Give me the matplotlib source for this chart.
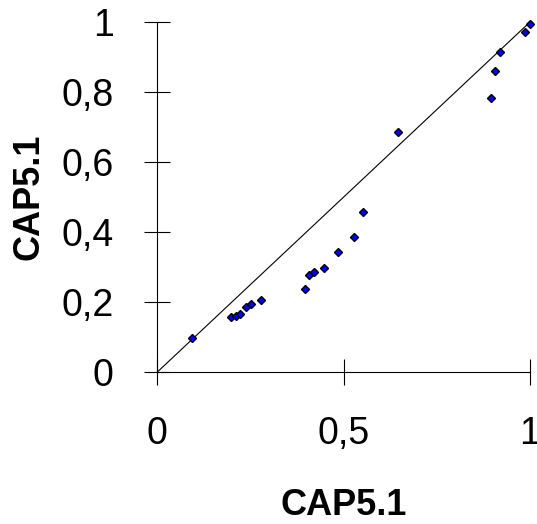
import matplotlib
matplotlib.use("Agg")
import matplotlib.pyplot as plt

plt.rcParams['font.family'] = ['Liberation Sans', 'DejaVu Sans']

# valeurs
x_vals = [0.093, 0.197, 0.210, 0.221, 0.237, 0.250, 0.279,
          0.395, 0.407, 0.420, 0.447, 0.486, 0.528, 0.553,
          0.645, 0.895, 0.906, 0.919, 0.987, 1.000]
y_vals = [0.098, 0.156, 0.161, 0.165, 0.187, 0.194, 0.205,
          0.238, 0.278, 0.287, 0.297, 0.342, 0.387, 0.456,
          0.686, 0.783, 0.860, 0.914, 0.971, 0.994]

x_ticks = [0, 0.5, 1]
x_labels = ["0", "0,5", "1"]
y_ticks = [0, 0.2, 0.4, 0.6, 0.8, 1]
y_labels = ["0", "0,2", "0,4", "0,6", "0,8", "1"]

fig = plt.figure(figsize=(5.37, 5.24), dpi=100)
ax = fig.add_axes([0.293, 0.29, 0.694, 0.668])

# diagonale y = x
ax.plot([0, 1], [0, 1], color='black', linewidth=0.8, zorder=1)
ax.plot(x_vals, y_vals, linestyle='none', marker='D', markersize=4.3,
        markerfacecolor='#0000FF', markeredgecolor='black',
        markeredgewidth=1.0, zorder=3, clip_on=False)

ax.set_xlim(0, 1)
ax.set_ylim(0, 1)
ax.spines['top'].set_visible(False)
ax.spines['right'].set_visible(False)
for s in ('left', 'bottom'):
    ax.spines[s].set_linewidth(0.8)
    ax.spines[s].set_color('black')

ax.set_xticks(x_ticks)
ax.set_xticklabels(x_labels)
ax.set_yticks(y_ticks)
ax.set_yticklabels(y_labels)
ax.tick_params(axis='both', direction='inout', length=19, width=0.8,
               labelsize=27, colors='black')
ax.tick_params(axis='x', pad=22)
ax.tick_params(axis='y', pad=22)

ax.set_xlabel("CAP5.1", fontsize=26, fontweight='bold', labelpad=26)
ax.set_ylabel("CAP5.1", fontsize=26, fontweight='bold', labelpad=11)

fig.savefig("out.png", dpi=100, facecolor='white')
